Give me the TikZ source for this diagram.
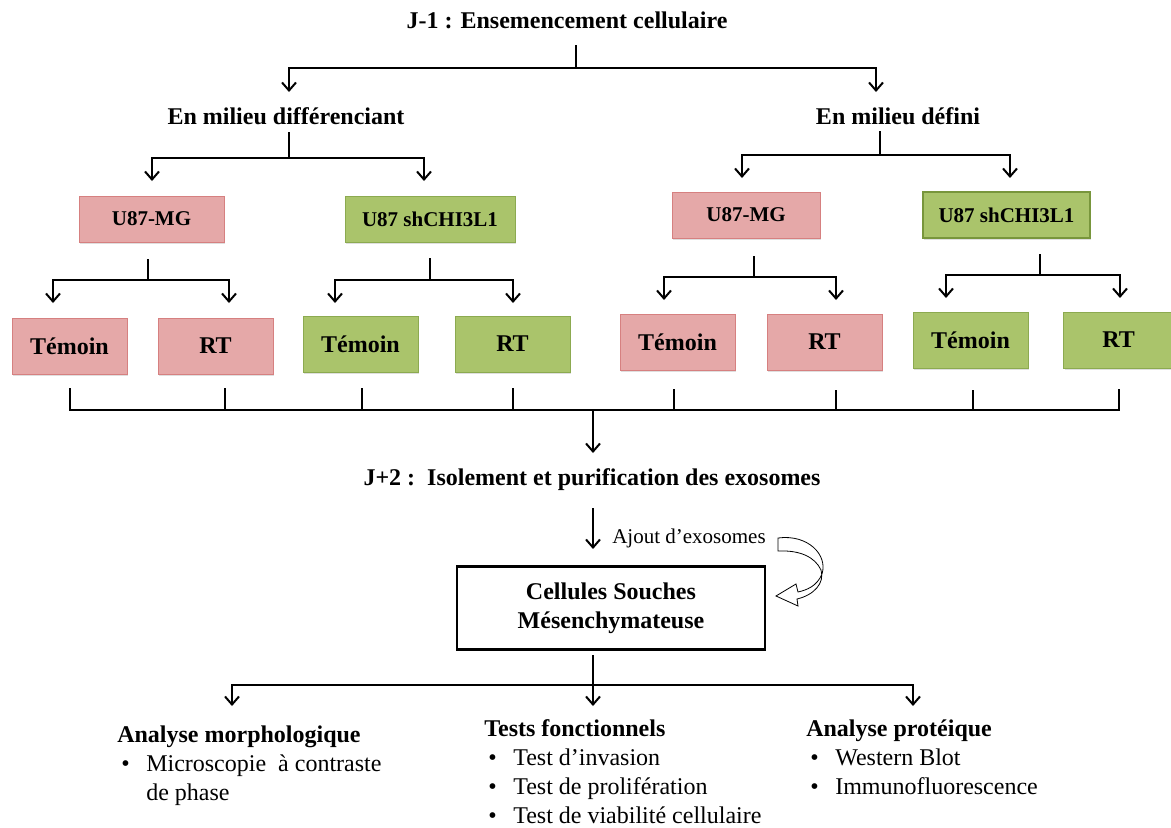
\documentclass[tikz,border=0pt]{standalone}
\usepackage{fontspec}
\setmainfont{Liberation Serif}
\usetikzlibrary{arrows.meta,shadows}
\definecolor{pinkF}{RGB}{229,168,168}
\definecolor{pinkB}{RGB}{214,128,128}
\definecolor{greenF}{RGB}{170,196,107}
\definecolor{greenB}{RGB}{140,170,80}
\definecolor{greenD}{RGB}{120,150,60}
\newcommand\bit[1]{\hspace*{3pt}\makebox[18.75pt][l]{\textbullet}#1}
\begin{document}
\begin{tikzpicture}[x=0.75pt,y=-0.75pt,
  ln/.style={line width=1.5pt,black,line join=miter},
  arr/.style={ln,-{Straight Barb[length=6pt,width=10.5pt,line width=1.5pt]}},
  big/.style={font=\bfseries\fontsize{18}{21.75}\selectfont,inner sep=0pt},
  boxbase/.style={line width=0.6pt,inner sep=0pt,
    drop shadow={shadow xshift=1pt,shadow yshift=-1.5pt,opacity=0.25}},
  pinkbox/.style={boxbase,draw=pinkB,fill=pinkF},
  greenbox/.style={boxbase,draw=greenB,fill=greenF},
  r1/.style={minimum height=34.5pt,font=\bfseries\fontsize{15.75}{18}\selectfont},
  r2/.style={minimum height=42pt,minimum width=86.25pt,font=\bfseries\fontsize{18}{21}\selectfont},
  txt/.style={font=\fontsize{18}{21.75}\selectfont,inner sep=0pt,align=left,anchor=north west}
]
\useasboundingbox (0,0) rectangle (1171,828);
\fill[white] (0,0) rectangle (1171,828);

% ---- level 1
\node[big] (t) at (567,20) {J-1 : Ensemencement cellulaire};
\node[big] (d1) at (286,116) {En milieu différenciant};
\node[big] (d2) at (898,116) {En milieu défini};
\coordinate (j1) at (576,45); \coordinate (j1b) at (576,68);
\coordinate (e1) at (289,92); \coordinate (e2) at (876,92);
\draw[ln] (j1) -- (j1b);
\draw[arr] (j1b) -| (e1);
\draw[arr] (j1b) -| (e2);

% ---- boxes row 1
\node[pinkbox,r1,minimum width=108.75pt] (a1) at (151.5,219) {U87-MG};
\node[greenbox,r1,minimum width=127.5pt] (a2) at (430,219) {U87 shCHI3L1};
\node[pinkbox,r1,minimum width=111pt] (a3) at (746,215) {U87-MG};
\node[greenbox,r1,minimum width=125.25pt,draw=greenD,line width=1.6pt] (a4) at (1006.5,215) {U87 shCHI3L1};

% ---- level 2 splits
\coordinate (s1) at (289,132); \coordinate (s1b) at (289,158);
\coordinate (f1) at (152,181); \coordinate (f2) at (424,181);
\draw[ln] (s1) -- (s1b);
\draw[arr] (s1b) -| (f1);
\draw[arr] (s1b) -| (f2);
\coordinate (s2) at (880,131); \coordinate (s2b) at (880,155);
\coordinate (f3) at (742,178); \coordinate (f4) at (1010,178);
\draw[ln] (s2) -- (s2b);
\draw[arr] (s2b) -| (f3);
\draw[arr] (s2b) -| (f4);

% ---- boxes row 2
\node[pinkbox,r2] (b1) at (69.5,346) {Témoin};
\node[pinkbox,r2] (b2) at (215.5,346) {RT};
\node[greenbox,r2] (b3) at (360.5,344) {Témoin};
\node[greenbox,r2] (b4) at (512.5,344) {RT};
\node[pinkbox,r2] (b5) at (677.5,342) {Témoin};
\node[pinkbox,r2] (b6) at (824.5,342) {RT};
\node[greenbox,r2] (b7) at (970.5,340) {Témoin};
\node[greenbox,r2,minimum width=82pt] (b8) at (1118.5,340) {RT};

% ---- level 3 splits
\coordinate (u1) at (148,259); \coordinate (u1b) at (148,280);
\coordinate (g1) at (53,303); \coordinate (g2) at (229,303);
\draw[ln] (u1) -- (u1b); \draw[arr] (u1b) -| (g1); \draw[arr] (u1b) -| (g2);
\coordinate (u2) at (430,258); \coordinate (u2b) at (430,280);
\coordinate (g3) at (335,303); \coordinate (g4) at (513,303);
\draw[ln] (u2) -- (u2b); \draw[arr] (u2b) -| (g3); \draw[arr] (u2b) -| (g4);
\coordinate (u3) at (754,256); \coordinate (u3b) at (754,277);
\coordinate (g5) at (664,300); \coordinate (g6) at (836,300);
\draw[ln] (u3) -- (u3b); \draw[arr] (u3b) -| (g5); \draw[arr] (u3b) -| (g6);
\coordinate (u4) at (1040,254); \coordinate (u4b) at (1040,275);
\coordinate (g7) at (946,298); \coordinate (g8) at (1120,298);
\draw[ln] (u4) -- (u4b); \draw[arr] (u4b) -| (g7); \draw[arr] (u4b) -| (g8);

% ---- collector
\coordinate (k1) at (70,388); \coordinate (kb1) at (70,410);
\coordinate (k8) at (1119,389); \coordinate (kb8) at (1119,410);
\draw[ln] (k1) -- (kb1) -- (kb8) -- (k8);
\foreach \x/\y in {225/388,362/388,513/388,674/389,836/390,973/390}
  \draw[ln] (\x,\y) -- (\x,410);
\coordinate (m0) at (593,410); \coordinate (m1) at (593,453);
\draw[arr] (m0) -- (m1);

\node[big] (iso) at (592,480) {J+2 :\ \ Isolement et purification des exosomes};
\coordinate (m2) at (593,508); \coordinate (m3) at (593,549);
\draw[arr] (m2) -- (m3);
\node[font=\fontsize{15.75}{18}\selectfont,inner sep=0pt,anchor=west] (aj) at (612,538) {Ajout d’exosomes};

% curved hollow arrow
\draw[line width=0.6pt,fill=white]
  (778,538) .. controls (808,534) and (828,555) .. (822,574)
  .. controls (817,586) and (807,590) .. (798,592)
  -- (796,584) -- (776,596) -- (798,606) -- (797,599)
  .. controls (814,595) and (825,583) .. (821,570)
  .. controls (815,557) and (800,550) .. (778,551) -- cycle;

% ---- MSC box
\node[draw,line width=1.6pt,minimum width=231pt,minimum height=62.25pt,
  big,align=center] (c) at (611,608) {Cellules Souches\\Mésenchymateuse};

\coordinate (n0) at (593,655); \coordinate (n1) at (593,685);
\coordinate (h1) at (232,706); \coordinate (h2) at (593,706); \coordinate (h3) at (913,706);
\draw[ln] (n0) -- (n1);
\draw[arr] (n1) -| (h1);
\draw[arr] (n1) -- (h2);
\draw[arr] (n1) -| (h3);

% ---- bottom texts
\node[txt] (p1) at (117,726) {\textbf{Analyse morphologique}\\
  \bit{Microscopie\ \ à contraste}\\
  \hspace*{21.75pt}de phase};
\node[txt] (p2) at (484,719) {\textbf{Tests fonctionnels}\\
  \bit{Test d’invasion}\\
  \bit{Test de prolifération}\\
  \bit{Test de viabilité cellulaire}};
\node[txt] (p3) at (806,720) {\textbf{Analyse protéique}\\
  \bit{Western Blot}\\
  \bit{Immunofluorescence}};
\end{tikzpicture}
\end{document}
